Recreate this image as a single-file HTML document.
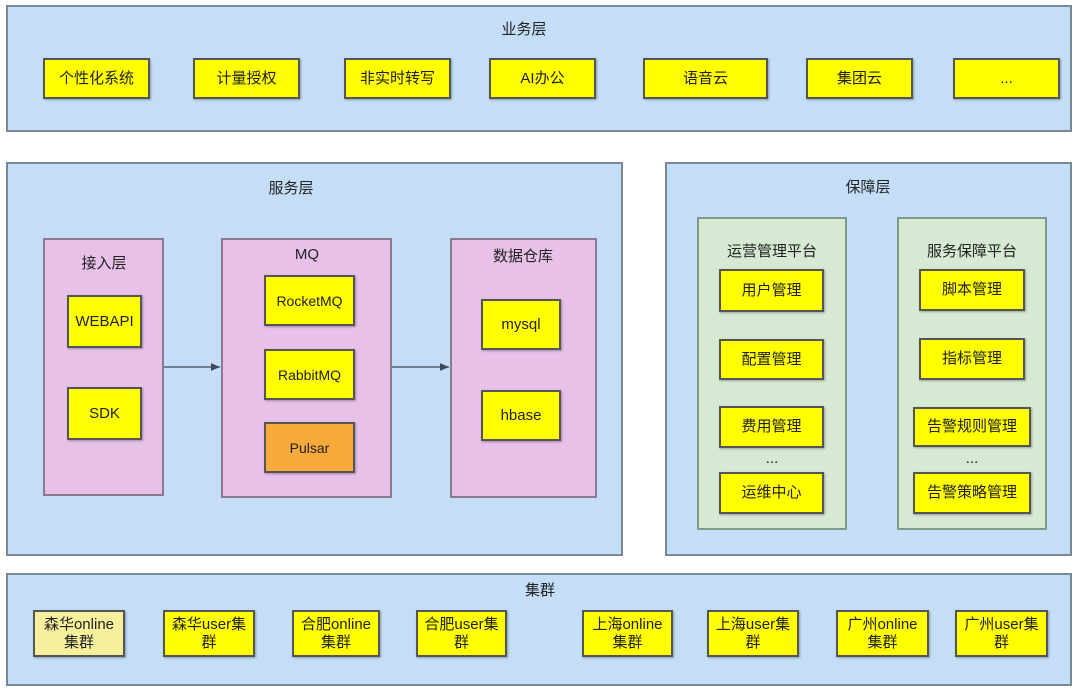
<!DOCTYPE html>
<html><head><meta charset="utf-8"><style>
body{margin:0;width:1080px;height:693px;background:#fff;position:relative;overflow:hidden;font-family:"Liberation Sans","Noto Sans CJK SC",sans-serif;color:#222}
div.b{position:absolute;box-sizing:border-box;display:flex;align-items:center;justify-content:center;text-align:center;font-size:15px;line-height:18px}
.p{background:#c3def6;border:2px solid #7a8794}
.y{background:#ffff00;border:2px solid #555;box-shadow:1px 1px 2px rgba(0,0,0,.3)}
.k{background:#e7c1e8;border:2px solid #8a7a8f}
.g{background:#d6e9d3;border:2px solid #7f9a86}
.t{position:absolute;font-size:15px;transform:translateX(-50%);white-space:nowrap}
</style></head><body>
<div class="b p" style="left:6px;top:5px;width:1066px;height:127px"></div>
<div class="t" style="left:524px;top:18px">业务层</div>
<div class="b y" style="left:43px;top:58px;width:107px;height:41px">个性化系统</div>
<div class="b y" style="left:193px;top:58px;width:107px;height:41px">计量授权</div>
<div class="b y" style="left:344px;top:58px;width:107px;height:41px">非实时转写</div>
<div class="b y" style="left:489px;top:58px;width:107px;height:41px">AI办公</div>
<div class="b y" style="left:643px;top:58px;width:125px;height:41px">语音云</div>
<div class="b y" style="left:806px;top:58px;width:107px;height:41px">集团云</div>
<div class="b y" style="left:953px;top:58px;width:107px;height:41px">...</div>

<div class="b p" style="left:6px;top:162px;width:617px;height:394px"></div>
<div class="t" style="left:291px;top:177px">服务层</div>
<div class="b k" style="left:43px;top:238px;width:121px;height:258px"></div>
<div class="t" style="left:104px;top:252px">接入层</div>
<div class="b y" style="left:67px;top:295px;width:75px;height:53px">WEBAPI</div>
<div class="b y" style="left:67px;top:387px;width:75px;height:53px">SDK</div>
<div class="b k" style="left:221px;top:238px;width:171px;height:260px"></div>
<div class="t" style="left:307px;top:246px">MQ</div>
<div class="b y" style="left:264px;top:275px;width:91px;height:51px;font-size:14px">RocketMQ</div>
<div class="b y" style="left:264px;top:349px;width:91px;height:51px;font-size:14px">RabbitMQ</div>
<div class="b y" style="left:264px;top:422px;width:91px;height:51px;font-size:14px;background:#f7a93c">Pulsar</div>
<div class="b k" style="left:450px;top:238px;width:147px;height:260px"></div>
<div class="t" style="left:523px;top:245px">数据仓库</div>
<div class="b y" style="left:481px;top:299px;width:80px;height:51px">mysql</div>
<div class="b y" style="left:481px;top:390px;width:80px;height:51px">hbase</div>
<svg style="position:absolute;left:0;top:0" width="1080" height="693">
<defs><marker id="a" markerWidth="8" markerHeight="8" refX="7" refY="4" orient="auto"><path d="M0,1 L7,4 L0,7z" fill="#3b4a5a"/></marker></defs>
<line x1="164" y1="367" x2="220" y2="367" stroke="#3b4a5a" stroke-width="1.3" marker-end="url(#a)"/>
<line x1="392" y1="367" x2="449" y2="367" stroke="#3b4a5a" stroke-width="1.3" marker-end="url(#a)"/>
</svg>

<div class="b p" style="left:665px;top:162px;width:407px;height:394px"></div>
<div class="t" style="left:868px;top:176px">保障层</div>
<div class="b g" style="left:697px;top:217px;width:150px;height:313px"></div>
<div class="t" style="left:772px;top:240px">运营管理平台</div>
<div class="b y" style="left:719px;top:269px;width:105px;height:43px">用户管理</div>
<div class="b y" style="left:719px;top:339px;width:105px;height:41px">配置管理</div>
<div class="b y" style="left:719px;top:406px;width:105px;height:42px">费用管理</div>
<div class="t" style="left:772px;top:450px">...</div>
<div class="b y" style="left:719px;top:472px;width:105px;height:42px">运维中心</div>
<div class="b g" style="left:897px;top:217px;width:150px;height:313px"></div>
<div class="t" style="left:972px;top:240px">服务保障平台</div>
<div class="b y" style="left:919px;top:269px;width:106px;height:42px">脚本管理</div>
<div class="b y" style="left:919px;top:338px;width:106px;height:42px">指标管理</div>
<div class="b y" style="left:913px;top:407px;width:118px;height:40px">告警规则管理</div>
<div class="t" style="left:972px;top:450px">...</div>
<div class="b y" style="left:913px;top:472px;width:118px;height:42px">告警策略管理</div>

<div class="b p" style="left:6px;top:573px;width:1066px;height:113px"></div>
<div class="t" style="left:540px;top:579px">集群</div>
<div class="b y" style="left:33px;top:610px;width:92px;height:47px;background:#f6ef9c">森华online<br>集群</div>
<div class="b y" style="left:163px;top:610px;width:92px;height:47px">森华user集<br>群</div>
<div class="b y" style="left:292px;top:610px;width:88px;height:47px">合肥online<br>集群</div>
<div class="b y" style="left:416px;top:610px;width:91px;height:47px">合肥user集<br>群</div>
<div class="b y" style="left:582px;top:610px;width:91px;height:47px">上海online<br>集群</div>
<div class="b y" style="left:707px;top:610px;width:92px;height:47px">上海user集<br>群</div>
<div class="b y" style="left:836px;top:610px;width:93px;height:47px">广州online<br>集群</div>
<div class="b y" style="left:955px;top:610px;width:93px;height:47px">广州user集<br>群</div>
</body></html>
